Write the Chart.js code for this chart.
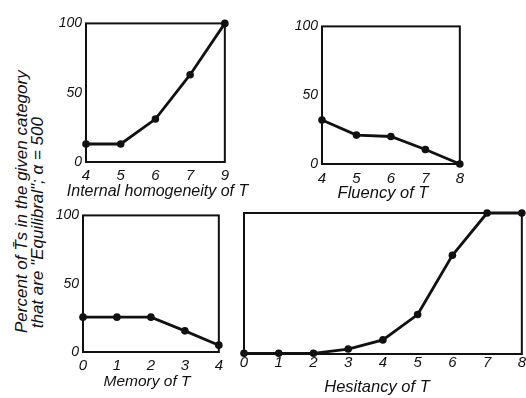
<!DOCTYPE html>
<html><head><meta charset="utf-8">
<script src="https://cdn.jsdelivr.net/npm/chart.js@4/dist/chart.umd.min.js"></script>
<style>
html,body{margin:0;padding:0;background:#fff;}
body{width:526px;height:398px;position:relative;overflow:hidden;}
canvas{position:absolute;}
.t{position:absolute;transform:translate(-50%,-50%);white-space:nowrap;font-family:"Liberation Sans",sans-serif;font-style:italic;color:#111;line-height:1;}
#ytitle{position:absolute;left:30px;top:197px;width:272px;transform:translate(-50%,-50%) rotate(-90deg);white-space:nowrap;text-align:left;font:italic 17px "Liberation Sans",sans-serif;line-height:16px;color:#111;}
</style></head><body>
<div id="ytitle">Percent of T̄s in the given category<br>&nbsp;that are "Equilibral"; α = 500</div>
<canvas id="c1"></canvas><canvas id="c2"></canvas><canvas id="c3"></canvas><canvas id="c4"></canvas>
<div class="t" id="t1" style="left:157.5px;top:191px;font-size:16px;"></div>
<div class="t" id="t2" style="left:383px;top:192px;font-size:16.5px;"></div>
<div class="t" id="t3" style="left:147px;top:381px;font-size:15.5px;"></div>
<div class="t" id="t4" style="left:377px;top:386px;font-size:16.5px;"></div>
<script>
// ---- data ----
const homogeneityLabels = ['4','5','6','7','9'];
const homogeneityValues = [13, 13, 31, 63, 100];
const fluencyLabels = ['4','5','6','7','8'];
const fluencyValues = [32, 21, 20, 10.5, 0];
const memoryLabels = ['0','1','2','3','4'];
const memoryValues = [25.5, 25.5, 25.5, 15.5, 5];
const hesitancyLabels = ['0','1','2','3','4','5','6','7','8'];
const hesitancyValues = [0.5, 0.5, 0.5, 3.5, 10, 28, 70, 100, 100];
const yTicks = [0, 50, 100];
const axisTitles = ['Internal homogeneity of T', 'Fluency of T', 'Memory of T', 'Hesitancy of T'];

const FONT = '"Liberation Sans", sans-serif';
const YW = 46, XH = 24, TOPPAD = 8, RPAD = 6;

axisTitles.forEach((s, i) => { document.getElementById('t' + (i + 1)).textContent = s; });

const frame = {
  id: 'frame',
  afterDraw(chart) {
    const a = chart.chartArea, ctx = chart.ctx;
    ctx.save();
    ctx.strokeStyle = '#111';
    ctx.lineWidth = 2;
    ctx.strokeRect(a.left, a.top, a.right - a.left, a.bottom - a.top);
    ctx.restore();
  }
};

function panel(id, area, labels, values, o) {
  const cv = document.getElementById(id);
  const rp = area.rp !== undefined ? area.rp : RPAD;
  const left = area.L - YW, top = area.T - TOPPAD;
  const w = area.R - area.L + YW + rp;
  const h = area.B - top + XH;
  cv.style.left = left + 'px'; cv.style.top = top + 'px';
  cv.width = w; cv.height = h;
  cv.style.width = w + 'px'; cv.style.height = h + 'px';
  new Chart(cv, {
    type: 'line',
    data: { labels: labels, datasets: [{
      data: values, borderColor: '#111', backgroundColor: '#111', borderWidth: 2.8,
      pointRadius: 3.8, pointBackgroundColor: '#111', pointBorderWidth: 0, tension: 0, clip: false
    }]},
    options: {
      responsive: false, animation: false, devicePixelRatio: 1,
      layout: { padding: { top: TOPPAD, right: rp, left: 0, bottom: 0 } },
      plugins: { legend: { display: false }, tooltip: { enabled: false } },
      scales: {
        x: {
          type: 'category', offset: false,
          grid: { display: false, drawTicks: false },
          border: { display: false },
          ticks: { color: '#111', padding: o.tickPad, maxRotation: 0, autoSkip: false, font: { family: FONT, size: 15, style: 'italic' } },
          afterFit(s) { s.height = XH; }
        },
        y: {
          min: 0, max: 100,
          afterBuildTicks(s) { s.ticks = yTicks.map(v => ({ value: v })); },
          grid: { display: false, drawTicks: false },
          border: { display: false },
          ticks: { display: o.showY, color: '#111', padding: 4, font: { family: FONT, size: 14, style: 'italic' } },
          afterFit(s) { s.width = YW; }
        }
      }
    },
    plugins: [frame]
  });
}

panel('c1', {L:86, R:228, T:19, B:162}, homogeneityLabels, homogeneityValues, {showY:true, tickPad:5});
panel('c2', {L:322, R:464, T:22, B:164}, fluencyLabels, fluencyValues, {showY:true, tickPad:6});
panel('c3', {L:83, R:222, T:211, B:352}, memoryLabels, memoryValues, {showY:true, tickPad:5});
panel('c4', {L:244, R:524, T:213, B:354, rp:2}, hesitancyLabels, hesitancyValues, {showY:false, tickPad:0});
</script>
</body></html>
